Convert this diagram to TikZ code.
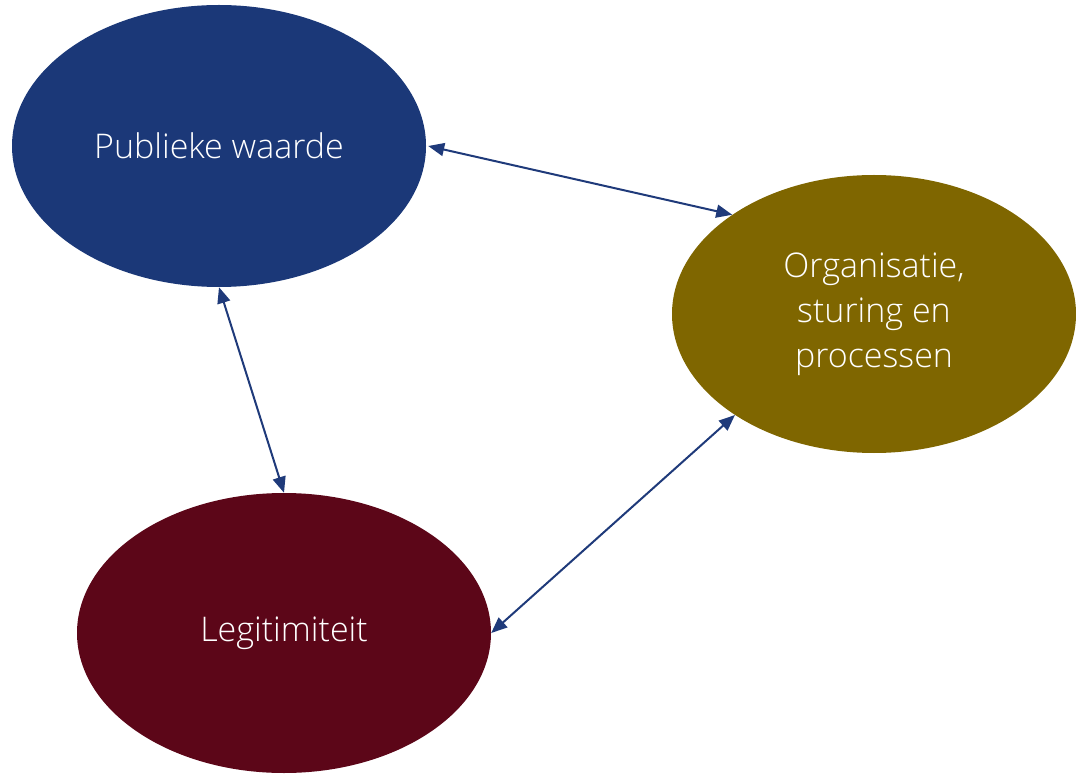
\documentclass[tikz,border=0pt]{standalone}
\usepackage{fontspec}
\setmainfont{Open Sans}[UprightFont=* Light]
\usetikzlibrary{shapes.geometric,arrows.meta}
\definecolor{pwblue}{HTML}{1B3878}
\definecolor{orgolive}{HTML}{7F6600}
\definecolor{legred}{HTML}{5C0618}
\definecolor{arrowblue}{HTML}{1F3A7A}
\tikzset{
  blob/.style={ellipse, inner sep=0pt, text=white, align=center, font=\fontsize{34}{45}\selectfont},
  link/.style={draw=arrowblue, line width=2pt, {Triangle[length=16pt,width=13pt]}-{Triangle[length=16pt,width=13pt]}}
}
\begin{document}
\begin{tikzpicture}[x=1pt,y=-1pt]
\useasboundingbox (0,0) rectangle (1076,775);
\node[blob, fill=pwblue, minimum width=414pt, minimum height=282pt] (pw) at (219,146) {Publieke waarde};
\node[blob, fill=orgolive, minimum width=404pt, minimum height=278pt] (org) at (874,314) {Organisatie,\\sturing en\\processen};
\node[blob, fill=legred, minimum width=414pt, minimum height=280pt] (leg) at (284,633) {Legitimiteit};
\draw[link] ([xshift=2pt]pw.east) -- (org.145);
\draw[link] (pw.south) -- (leg.north);
\draw[link] (leg.east) -- (org.216);
\end{tikzpicture}
\end{document}
